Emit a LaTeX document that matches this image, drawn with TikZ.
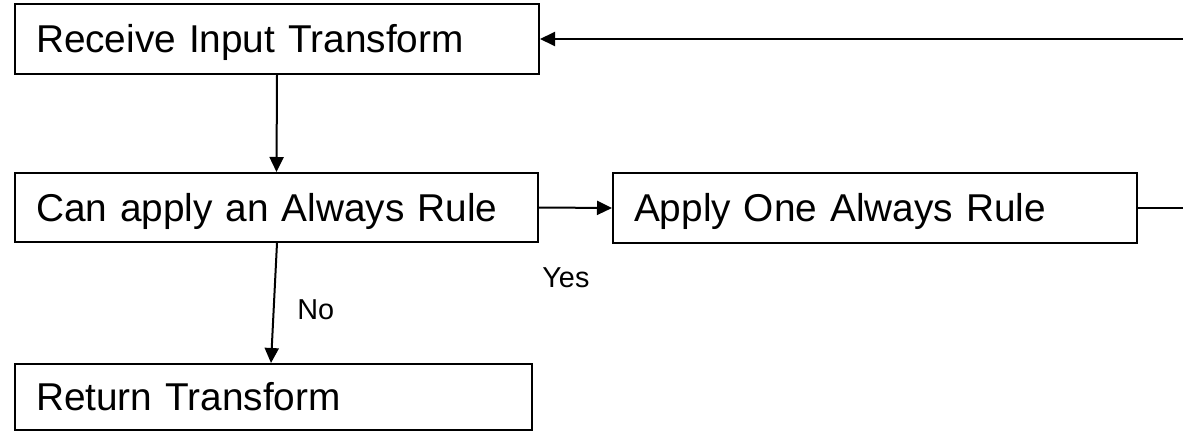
\documentclass[tikz,border=0pt]{standalone}
\usepackage{fontspec}
\setmainfont{Liberation Sans}
\usetikzlibrary{arrows.meta}
\begin{document}
\begin{tikzpicture}[x=0.5pt,y=-0.5pt,
  flowbox/.style={draw=black, line width=1pt, rectangle, inner xsep=10.5pt, inner ysep=0pt,
    align=left, font=\fontsize{19.4pt}{22pt}\selectfont,
    text height=13.9pt, text depth=0pt},
  lbl/.style={font=\fontsize{14.4pt}{17pt}\selectfont, inner sep=0pt, anchor=base west},
  conn/.style={line width=1pt, -{Triangle[length=7.5pt,width=7pt]}},
  plain/.style={line width=1pt}]
\useasboundingbox (0,0) rectangle (1183,433);
\node[flowbox, minimum width=262pt, minimum height=35pt, text width=241pt] (recv) at (277,39) {Receive Input Transform};
\node[flowbox, minimum width=261.5pt, minimum height=34.5pt, text width=240.5pt] (can) at (276.5,207.5) {Can apply an Always Rule};
\node[flowbox, minimum width=262pt, minimum height=35pt, text width=241pt] (apply) at (875,208) {Apply One Always Rule};
\node[flowbox, minimum width=258.5pt, minimum height=33pt, text width=237.5pt] (ret) at (273.5,397) {Return Transform};
\coordinate (e1) at (1183,39);
\coordinate (e2) at (1183,208);
\draw[conn] (e1) -- (recv.east);
\draw[conn] (recv.south) -- (can.north);
\draw[conn] (can.east) -- (apply.west);
\draw[plain] (apply.east) -- (e2);
\draw[conn] ([xshift=0.25pt]can.south) -- ([xshift=-1.25pt]ret.north);
\node[lbl] (yes) at (542,287) {Yes};
\node[lbl] (no) at (297,319) {No};
\end{tikzpicture}
\end{document}
